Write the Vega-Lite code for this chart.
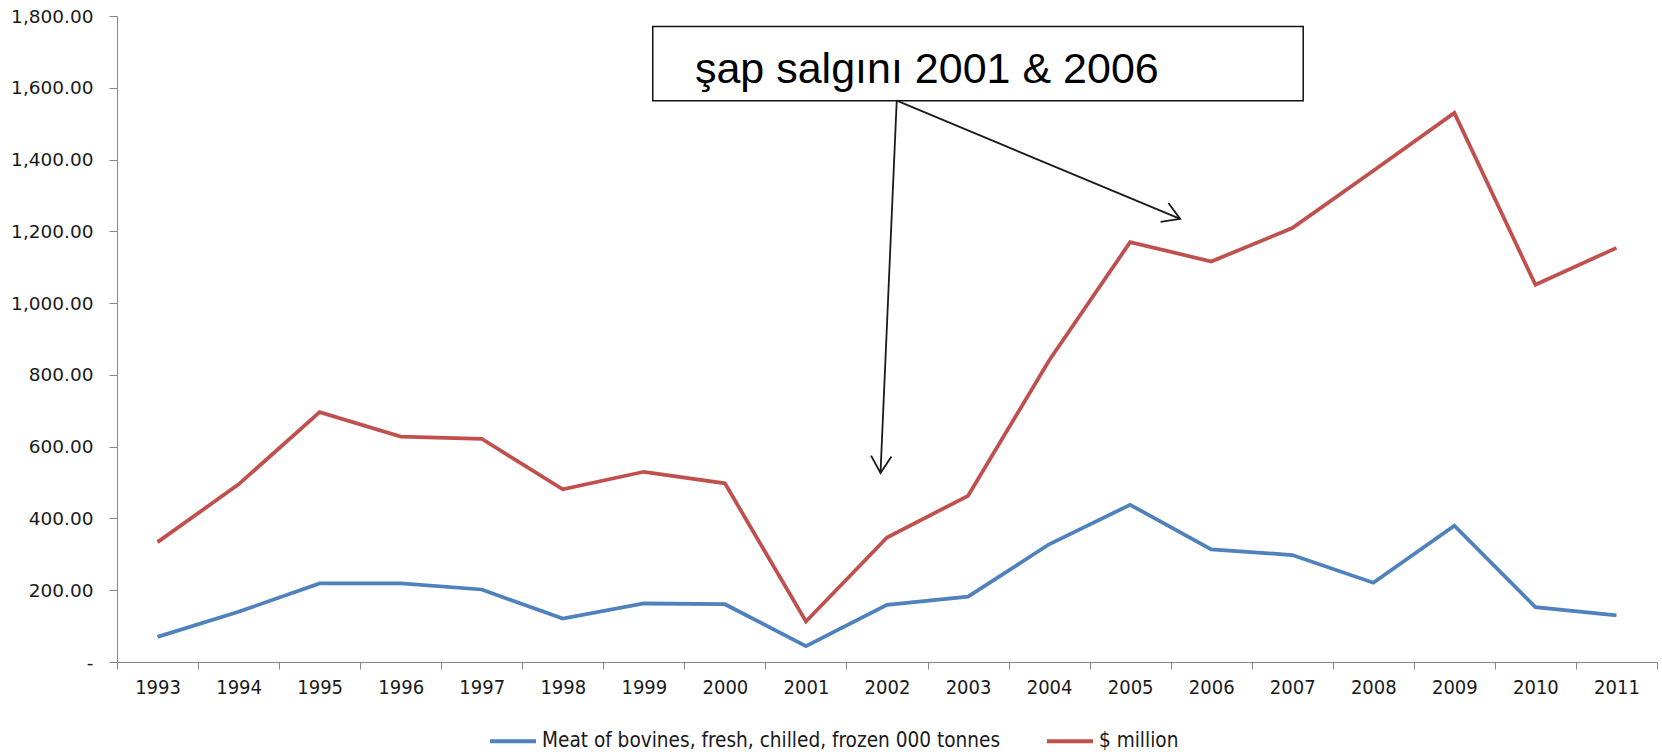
{
  "$schema": "https://vega.github.io/schema/vega-lite/v6.json",
  "autosize": {"type": "none"},
  "width": 1540,
  "height": 646,
  "padding": {"left": 117, "top": 16, "right": 5, "bottom": 93},
  "background": "white",
  "config": {"view": {"stroke": null}},
  "resolve": {"scale": {"x": "independent", "y": "independent"}},
  "layer": [
    {
      "data": {"values": [
        {"year": "1993", "series": "Meat of bovines, fresh, chilled, frozen 000 tonnes", "value": 70},
        {"year": "1994", "series": "Meat of bovines, fresh, chilled, frozen 000 tonnes", "value": 140},
        {"year": "1995", "series": "Meat of bovines, fresh, chilled, frozen 000 tonnes", "value": 219},
        {"year": "1996", "series": "Meat of bovines, fresh, chilled, frozen 000 tonnes", "value": 219},
        {"year": "1997", "series": "Meat of bovines, fresh, chilled, frozen 000 tonnes", "value": 202},
        {"year": "1998", "series": "Meat of bovines, fresh, chilled, frozen 000 tonnes", "value": 121},
        {"year": "1999", "series": "Meat of bovines, fresh, chilled, frozen 000 tonnes", "value": 163},
        {"year": "2000", "series": "Meat of bovines, fresh, chilled, frozen 000 tonnes", "value": 161},
        {"year": "2001", "series": "Meat of bovines, fresh, chilled, frozen 000 tonnes", "value": 44},
        {"year": "2002", "series": "Meat of bovines, fresh, chilled, frozen 000 tonnes", "value": 159},
        {"year": "2003", "series": "Meat of bovines, fresh, chilled, frozen 000 tonnes", "value": 182},
        {"year": "2004", "series": "Meat of bovines, fresh, chilled, frozen 000 tonnes", "value": 328},
        {"year": "2005", "series": "Meat of bovines, fresh, chilled, frozen 000 tonnes", "value": 438},
        {"year": "2006", "series": "Meat of bovines, fresh, chilled, frozen 000 tonnes", "value": 314},
        {"year": "2007", "series": "Meat of bovines, fresh, chilled, frozen 000 tonnes", "value": 298},
        {"year": "2008", "series": "Meat of bovines, fresh, chilled, frozen 000 tonnes", "value": 221},
        {"year": "2009", "series": "Meat of bovines, fresh, chilled, frozen 000 tonnes", "value": 380},
        {"year": "2010", "series": "Meat of bovines, fresh, chilled, frozen 000 tonnes", "value": 153},
        {"year": "2011", "series": "Meat of bovines, fresh, chilled, frozen 000 tonnes", "value": 130},
        {"year": "1993", "series": "$ million", "value": 334},
        {"year": "1994", "series": "$ million", "value": 495},
        {"year": "1995", "series": "$ million", "value": 696},
        {"year": "1996", "series": "$ million", "value": 628},
        {"year": "1997", "series": "$ million", "value": 622},
        {"year": "1998", "series": "$ million", "value": 481},
        {"year": "1999", "series": "$ million", "value": 530},
        {"year": "2000", "series": "$ million", "value": 498},
        {"year": "2001", "series": "$ million", "value": 113},
        {"year": "2002", "series": "$ million", "value": 347},
        {"year": "2003", "series": "$ million", "value": 463},
        {"year": "2004", "series": "$ million", "value": 840},
        {"year": "2005", "series": "$ million", "value": 1170},
        {"year": "2006", "series": "$ million", "value": 1116},
        {"year": "2007", "series": "$ million", "value": 1209},
        {"year": "2008", "series": "$ million", "value": 1369},
        {"year": "2009", "series": "$ million", "value": 1530},
        {"year": "2010", "series": "$ million", "value": 1051},
        {"year": "2011", "series": "$ million", "value": 1154}
      ]},
      "mark": {"type": "line", "strokeWidth": 3.75},
      "encoding": {
        "x": {
          "field": "year", "type": "ordinal", "bandPosition": 0.5,
          "scale": {"type": "band", "paddingInner": 0, "paddingOuter": 0},
          "axis": {
            "title": null, "tickBand": "extent", "labelAngle": 0,
            "domainColor": "#868686", "tickColor": "#868686", "tickSize": 7,
            "labelFont": "DejaVu Sans Condensed, Roboto, sans-serif", "labelFontSize": 20, "labelColor": "#1a1a1a",
            "labelPadding": 8, "grid": false
          }
        },
        "y": {
          "field": "value", "type": "quantitative",
          "scale": {"domain": [0, 1800], "nice": false},
          "axis": {
            "title": null, "values": [0, 200, 400, 600, 800, 1000, 1200, 1400, 1600, 1800],
            "labelExpr": "datum.value == 0 ? '-\u00a0\u00a0\u00a0' : format(datum.value, ',.2f')",
            "domainColor": "#868686", "tickColor": "#868686", "tickSize": 8,
            "labelFont": "DejaVu Sans", "labelFontSize": 18.5, "labelColor": "#1a1a1a",
            "labelPadding": 16, "grid": false
          }
        },
        "color": {
          "field": "series", "type": "nominal",
          "scale": {"domain": ["Meat of bovines, fresh, chilled, frozen 000 tonnes", "$ million"], "range": ["#4F81BD", "#C0504D"]},
          "legend": {
            "title": null, "orient": "none", "direction": "horizontal",
            "legendX": 371, "legendY": 700, "padding": 0,
            "symbolType": "stroke", "symbolStrokeWidth": 4, "symbolSize": 2116,
            "labelFont": "DejaVu Sans Condensed, Roboto, sans-serif", "labelFontSize": 20.6, "labelColor": "#1a1a1a",
            "labelLimit": 0, "columnPadding": 38, "labelOffset": 4
          }
        }
      }
    },
    {
      "data": {"values": [{"x": 1999.11, "x2": 2007.135, "y": 1770.7, "y2": 1564}]},
      "mark": {"type": "rect", "fill": "white", "stroke": "#111111", "strokeWidth": 1.5},
      "encoding": {
        "x": {"field": "x", "type": "quantitative", "scale": {"domain": [1992.5, 2011.5], "nice": false, "zero": false}, "axis": null},
        "x2": {"field": "x2"},
        "y": {"field": "y", "type": "quantitative", "scale": {"domain": [0, 1800], "nice": false}, "axis": null},
        "y2": {"field": "y2"}
      }
    },
    {
      "data": {"values": [{"x": 1999.63, "y": 1614, "label": "şap salgını 2001 & 2006"}]},
      "mark": {"type": "text", "align": "left", "baseline": "alphabetic", "font": "Liberation Sans", "fontSize": 43, "color": "#000000"},
      "encoding": {
        "x": {"field": "x", "type": "quantitative", "scale": {"domain": [1992.5, 2011.5], "nice": false, "zero": false}, "axis": null},
        "y": {"field": "y", "type": "quantitative", "scale": {"domain": [0, 1800], "nice": false}, "axis": null},
        "text": {"field": "label"}
      }
    },
    {
      "data": {"values": [
        {"x": 2002.12, "y": 1564, "x2": 2001.92, "y2": 526.6},
        {"x": 2002.12, "y": 1564, "x2": 2005.617, "y2": 1234.6}
      ]},
      "mark": {"type": "rule", "color": "#1a1a1a", "strokeWidth": 1.8},
      "encoding": {
        "x": {"field": "x", "type": "quantitative", "scale": {"domain": [1992.5, 2011.5], "nice": false, "zero": false}, "axis": null},
        "x2": {"field": "x2"},
        "y": {"field": "y", "type": "quantitative", "scale": {"domain": [0, 1800], "nice": false}, "axis": null},
        "y2": {"field": "y2"}
      }
    },
    {
      "data": {"values": [
        {"x": 2001.92, "y": 526.6, "ang": 92.54},
        {"x": 2005.617, "y": 1234.6, "ang": 22.64}
      ]},
      "mark": {"type": "point", "shape": "M-1,-0.6L0,0L-1,0.6", "filled": false, "stroke": "#1a1a1a", "strokeWidth": 1.8, "size": 1156, "opacity": 1},
      "encoding": {
        "x": {"field": "x", "type": "quantitative", "scale": {"domain": [1992.5, 2011.5], "nice": false, "zero": false}, "axis": null},
        "y": {"field": "y", "type": "quantitative", "scale": {"domain": [0, 1800], "nice": false}, "axis": null},
        "angle": {"field": "ang", "type": "quantitative", "scale": null}
      }
    }
  ]
}
